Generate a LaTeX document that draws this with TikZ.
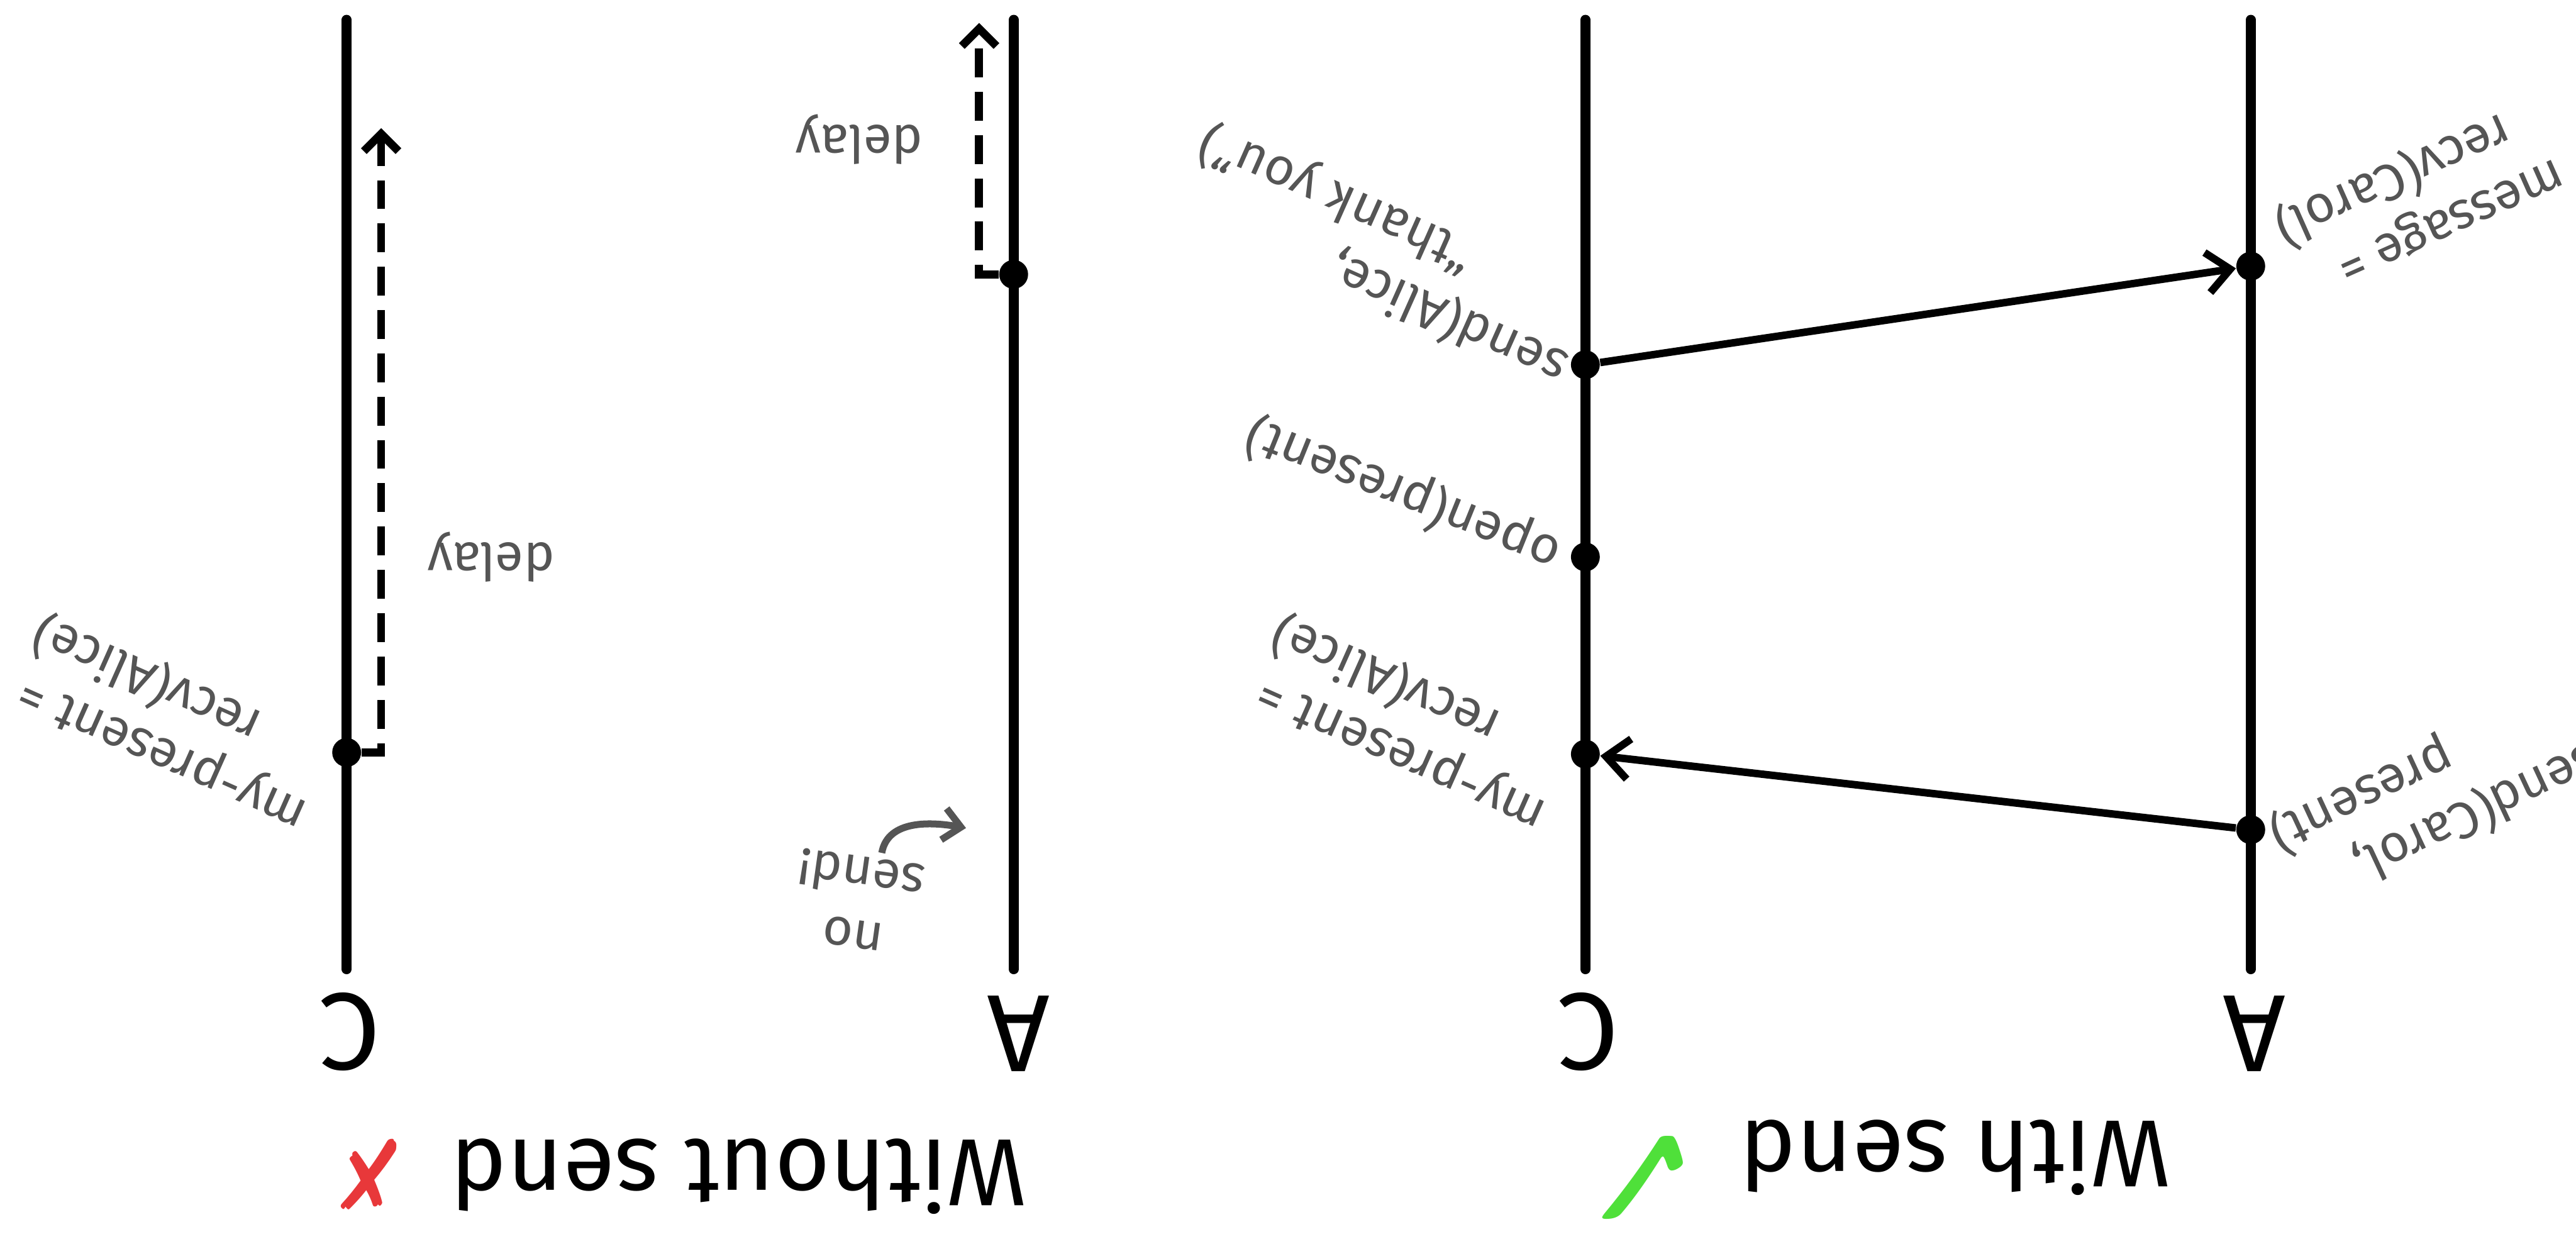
\documentclass[tikz,border=0pt]{standalone}
\usepackage{fontspec}
\setmainfont{Fira Sans}
\newfontfamily\marksfont{DejaVu Sans}
\usetikzlibrary{arrows.meta,positioning}
\definecolor{notegray}{HTML}{555555}
\definecolor{crossred}{HTML}{E8383A}
\definecolor{tickgreen}{HTML}{4FE03A}

\begin{document}
\begin{tikzpicture}[x=0.02cm, y=0.02cm,
    lifeline/.style={line width=3.4pt, line cap=round},
    event/.style={circle, fill=black, inner sep=0pt, minimum size=10pt},
    msg/.style={-{Straight Barb[length=8pt,width=14pt]}, line width=2.6pt},
    wait/.style={-{Straight Barb[length=6pt,width=12pt]}, line width=2.8pt, dash pattern=on 10pt off 5pt},
    hint/.style={-{Straight Barb[length=6pt,width=11pt]}, line width=2.4pt, notegray},
    note/.style={text=notegray, font=\fontsize{18}{22}\selectfont, inner sep=1pt},
    who/.style={font=\fontsize{38}{40}\selectfont, rotate=180, inner sep=0pt},
    title/.style={font=\fontsize{33}{36}\selectfont, rotate=180, inner sep=0pt}]
  \useasboundingbox (0,0) rectangle (1568,-757);

  % without send
  \coordinate (c1top) at (211,-12);
  \coordinate (c1bot) at (211,-590);
  \coordinate (a1top) at (617,-12);
  \coordinate (a1bot) at (617,-590);
  \draw[lifeline] (c1top) -- (c1bot);
  \draw[lifeline] (a1top) -- (a1bot);
  \node[who] (c1name) at (213,-628) {C};
  \node[who] (a1name) at (620,-629) {A};

  \node[event] (c1recv) at (211,-458) {};
  \node[event] (a1idle) at (617,-167) {};
  \coordinate (c1wake) at (232,-78);
  \coordinate (a1wake) at (596,-14);
  \draw[wait] (c1recv.east) -| (c1wake);
  \draw[wait] (a1idle.west) -| (a1wake);

  \node[note, rotate=180] (c1delay) at (299,-339) {delay};
  \node[note, rotate=180] (a1delay) at (523,-85) {delay};
  \node[note, rotate=156, align=left] (c1recvlbl) at (104,-439)
    {my-present =\\\hspace*{1.5em}recv(Alice)};
  \node[note, rotate=172, align=center] (nosend) at (522,-549) {no\\send!};
  \coordinate (nosendtip) at (588,-504);
  \draw[hint] ([xshift=6pt]nosend.south) to[out=80, in=170] (nosendtip);

  \node[title] (withouttitle) at (412,-716)
    {Without send\hspace{0.45em}{\marksfont\color{crossred}✗}};

  % with send
  \coordinate (c2top) at (965,-12);
  \coordinate (c2bot) at (965,-590);
  \coordinate (a2top) at (1370,-12);
  \coordinate (a2bot) at (1370,-590);
  \draw[lifeline] (c2top) -- (c2bot);
  \draw[lifeline] (a2top) -- (a2bot);
  \node[who] (c2name) at (967,-628) {C};
  \node[who] (a2name) at (1372,-629) {A};

  \node[event] (c2send) at (965,-222) {};
  \node[event] (c2open) at (965,-339) {};
  \node[event] (c2recv) at (965,-459) {};
  \node[event] (a2recv) at (1370,-162) {};
  \node[event] (a2send) at (1370,-505) {};
  \draw[msg] (c2send) -- (a2recv);
  \draw[msg] (a2send) -- (c2recv);

  \node[note, rotate=156, align=left] (c2sendlbl) at (842,-155)
    {send(Alice,\\\phantom{send(}“thank you”)};
  \node[note, rotate=158] (c2openlbl) at (854,-301) {open(present)};
  \node[note, rotate=156, align=left] (c2recvlbl) at (858,-439)
    {my-present =\\\hspace*{1.5em}recv(Alice)};
  \node[note, rotate=204, align=left] (a2recvlbl) at (1472,-120)
    {message =\\\hspace*{0.6em}recv(Carol)};
  \node[note, rotate=205, align=left] (a2sendlbl) at (1482,-485)
    {send(Carol,\\\phantom{send(}present)};

  \node[title] (withtitle) at (1140,-712)
    {With send\hspace{0.35em}{\marksfont\fontsize{54}{54}\selectfont\color{tickgreen}✓}};
\end{tikzpicture}
\end{document}
